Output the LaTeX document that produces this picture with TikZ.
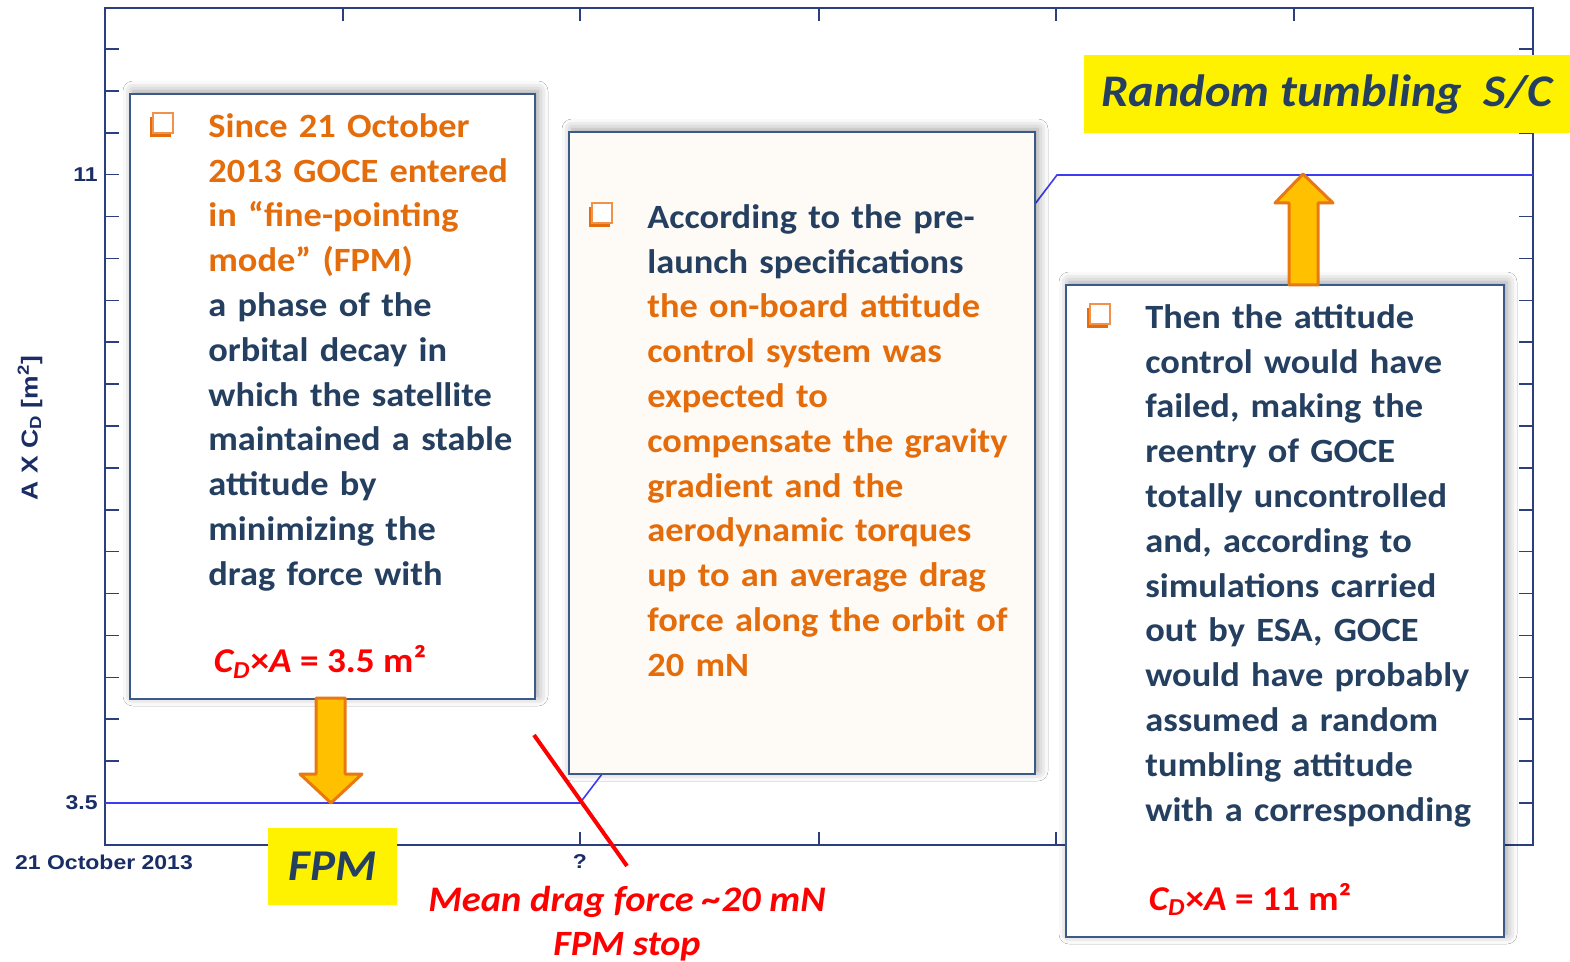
\documentclass[tikz,border=0pt]{standalone}
\usepackage{fontspec}
\setmainfont{Carlito}[FakeStretch=1.07]
\newfontfamily\arialf{Liberation Sans}[FakeStretch=1.15]
\usetikzlibrary{shadows.blur}
\definecolor{navytxt}{HTML}{243F60}
\definecolor{orangetxt}{HTML}{E46C0A}
\definecolor{bulletlight}{HTML}{F0924A}
\definecolor{axiscol}{HTML}{2B3F7E}
\definecolor{ticklab}{HTML}{1B2D66}
\definecolor{datacol}{HTML}{3C3CF0}
\definecolor{boxborder}{HTML}{3B5A8A}
\definecolor{creamfill}{HTML}{FEFAF6}
\definecolor{goldfill}{HTML}{FFC000}
\definecolor{arrowedge}{HTML}{E8780F}
\definecolor{redtxt}{HTML}{FF0000}
\begin{document}
\begin{tikzpicture}[x=0.5pt,y=-0.5pt,
  infobox/.style={draw=boxborder, line width=1pt, anchor=north west, inner sep=0pt,
    blur shadow={shadow xshift=1.5pt, shadow yshift=1.5pt, shadow blur radius=5pt, shadow opacity=40}},
  bodytext/.style={anchor=north west, inner sep=0pt, text width=250pt, align=left,
    font=\bfseries\fontsize{17}{22.4}\selectfont},
  formula/.style={inner sep=0pt, anchor=base, text=redtxt, font=\bfseries\fontsize{17.4}{20}\selectfont},
  bulletsq/.style={draw=bulletlight, fill=white, line width=0.8pt, minimum size=10pt, inner sep=0pt},
  ticklabel/.style={inner sep=0pt, text=ticklab, font=\arialf\bfseries\fontsize{10}{12}\selectfont},
  yellowlabel/.style={fill=yellow, inner sep=0pt, text=navytxt, font=\bfseries\itshape\fontsize{22}{24}\selectfont},
  axisline/.style={draw=axiscol, line width=1pt},
  tickline/.style={draw=axiscol, line width=0.8pt},
  blockarrow/.style={fill=goldfill, draw=arrowedge, line width=1.5pt, line join=round}
]
\useasboundingbox (0,0) rectangle (1570,962);
\fill[white] (0,0) rectangle (1570,962);

% ---- axes frame ----
\draw[axisline] (105,8) rectangle (1533,845);
\foreach \k in {0,...,18} {
  \draw[tickline] (105,{803-41.89*\k}) -- (119,{803-41.89*\k});
  \draw[tickline] (1519,{803-41.89*\k}) -- (1533,{803-41.89*\k});
}
\foreach \xx in {343,580,819,1056,1294} {
  \draw[tickline] (\xx,8) -- (\xx,21);
  \draw[tickline] (\xx,845) -- (\xx,832);
}
\node[ticklabel, anchor=east] (lab11) at (98,175) {11};
\node[ticklabel, anchor=east] (lab35) at (98,803) {3.5};
\node[ticklabel] (labdate) at (104,862) {21 October 2013};
\node[ticklabel] (labq) at (580,862) {?};
\node[rotate=90, inner sep=0pt, text=ticklab, font=\arialf\bfseries\fontsize{11.5}{13}\selectfont] (ylab) at (30,428) {A X C\textsubscript{D} [m\textsuperscript{2}]};

% ---- data line ----
\draw[datacol, line width=0.8pt] (105,803) -- (580,803) -- (1057,175) -- (1533,175);

% ---- red marker ----
\draw[redtxt, line width=2pt] (534,735) -- (627,866);

% ---- yellow labels ----
\node[yellowlabel, minimum width=243pt, minimum height=39pt, font=\bfseries\itshape\fontsize{22.6}{24}\selectfont] (rtbox) at (1327,94) {Random tumbling\ \ S/C};
\node[yellowlabel, minimum width=64.5pt, minimum height=38.5pt] (fpmbox) at (332.5,866.5) {FPM};

% ---- box 1 ----
\node[infobox, fill=white, minimum width=202.5pt, minimum height=302.5pt] (box1) at (129,93) {};
\fill[orangetxt] (150,117) rectangle (171,137);
\node[bulletsq] (bul1) at (163,123) {};
\node[bodytext] (txt1) at (208,107) {\rule{0pt}{15pt}\color{orangetxt}Since 21 October\\
2013 GOCE entered\\
in “fine-pointing\\
mode” (FPM)\\
\color{navytxt}a phase of the\\
orbital decay in\\
which the satellite\\
maintained a stable\\
attitude by\\
minimizing the\\
drag force with};
\node[formula] (form1) at (320,673) {\itshape C\textsubscript{D}\upshape×\itshape A\upshape\ = 3.5 m²};

% ---- box 2 ----
\node[infobox, fill=creamfill, minimum width=233pt, minimum height=321pt] (box2) at (568,131) {};
\fill[orangetxt] (589,207) rectangle (610,227);
\node[bulletsq] (bul2) at (602,213) {};
\node[bodytext] (txt2) at (647,198) {\rule{0pt}{15pt}\color{navytxt}According to the pre-\\
launch specifications\\
\color{orangetxt}the on-board attitude\\
control system was\\
expected to\\
compensate the gravity\\
gradient and the\\
aerodynamic torques\\
up to an average drag\\
force along the orbit of\\
20 mN};

% ---- box 3 ----
\node[infobox, fill=white, minimum width=219pt, minimum height=326pt] (box3) at (1065,284) {};
\fill[orangetxt] (1087,308) rectangle (1108,328);
\node[bulletsq] (bul3) at (1100,314) {};
\node[bodytext] (txt3) at (1145,298) {\rule{0pt}{15pt}\color{navytxt}Then the attitude\\
control would have\\
failed, making the\\
reentry of GOCE\\
totally uncontrolled\\
and, according to\\
simulations carried\\
out by ESA, GOCE\\
would have probably\\
assumed a random\\
tumbling attitude\\
with a corresponding};
\node[formula] (form3) at (1250,910) {\itshape C\textsubscript{D}\upshape×\itshape A\upshape\ = 11 m²};

% ---- block arrows ----
\draw[blockarrow] (316,698) -- (345,698) -- (345,774) -- (362,774) -- (331,803) -- (300,774) -- (316,774) -- cycle;
\draw[blockarrow] (1289,285) -- (1318,285) -- (1318,203) -- (1333,203) -- (1303,174) -- (1275,203) -- (1289,203) -- cycle;

% ---- red caption ----
\node[inner sep=0pt, anchor=base, text=redtxt, font=\bfseries\itshape\fontsize{18}{20}\selectfont] (capA) at (627,911) {Mean drag force \textasciitilde20 mN};
\node[inner sep=0pt, anchor=base, text=redtxt, font=\bfseries\itshape\fontsize{17.8}{20}\selectfont] (capB) at (627,955) {FPM stop};
\end{tikzpicture}
\end{document}
